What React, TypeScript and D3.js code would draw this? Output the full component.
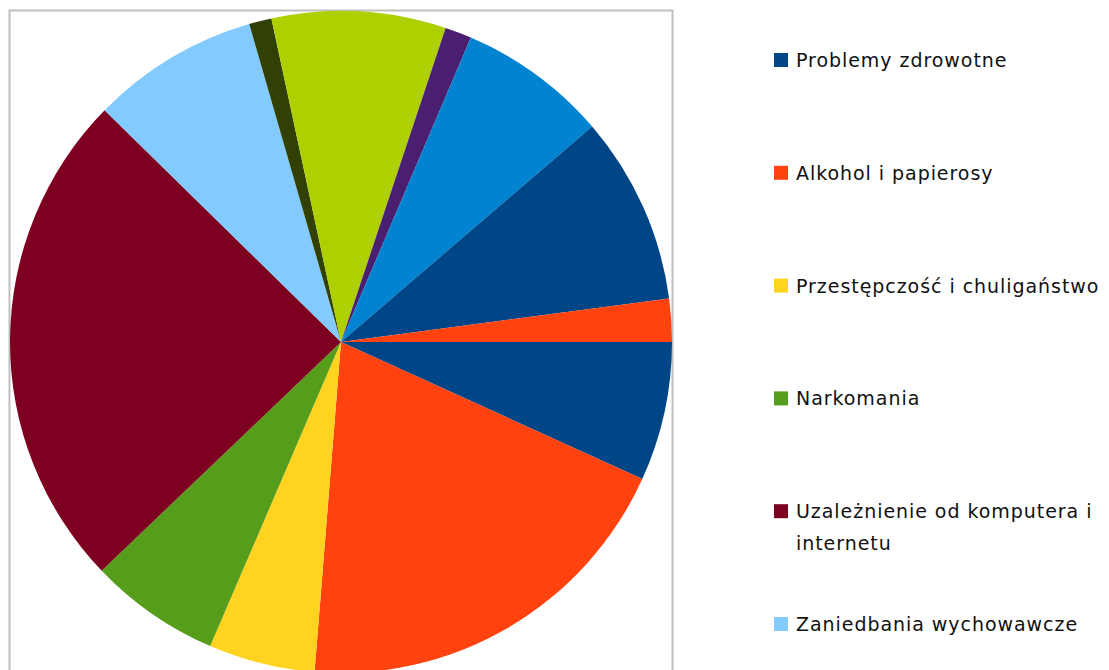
import * as React from "react";
import * as d3 from "d3";

// shares, clockwise from 3 o'clock
const shares = [6.8, 19.5, 5.2, 6.4, 24.5, 8.2, 1.1, 8.5, 1.3, 7.3, 9.2, 2.1];
const colors = [
	"#004586",
	"#ff420e",
	"#ffd320",
	"#579d1c",
	"#7e0021",
	"#83caff",
	"#314004",
	"#aecf00",
	"#4b1f6f",
	"#0084d1",
	"#004586",
	"#ff420e",
];
// only the first legend entries are visible in the picture
const legendLabels = [
	["Problemy zdrowotne"],
	["Alkohol i papierosy"],
	["Przestępczość i chuligaństwo"],
	["Narkomania"],
	["Uzależnienie od komputera i", "internetu"],
	["Zaniedbania wychowawcze"],
];

function PieChart() {
	const width = 1109;
	const height = 670;
	const cx = 341;
	const cy = 342;
	const radius = 331;

	const arcs = React.useMemo(
		() =>
			d3
				.pie<number>()
				.sort(null)
				.startAngle(Math.PI / 2)
				.endAngle(Math.PI / 2 + 2 * Math.PI)(shares),
		[]
	);
	const arc = d3.arc<d3.PieArcDatum<number>>().innerRadius(0).outerRadius(radius);

	const legendY = d3
		.scaleLinear()
		.domain([0, legendLabels.length - 1])
		.range([60, 624]);

	return (
		<svg
			width={width}
			height={height}
			style={{ position: "absolute", left: 0, top: 0 }}
			fontFamily="DejaVu Sans"
		>
			<rect x={0} y={0} width={width} height={height} fill="white" />
			<rect
				x={9.5}
				y={10.5}
				width={663}
				height={height + 20}
				fill="none"
				stroke="#bfbfbf"
				strokeWidth={2}
			/>
			<g transform={`translate(${cx},${cy})`}>
				{arcs.map((a, i) => (
					<path key={i} d={arc(a) || ""} fill={colors[i]} />
				))}
			</g>
			<g>
				{legendLabels.map((lines, i) => {
					const y = legendY(i);
					return (
						<g key={i}>
							<rect
								x={774}
								y={y - 7}
								width={14}
								height={14}
								fill={colors[i]}
							/>
							{lines.map((line, j) => (
								<text
									key={j}
									x={796}
									y={y + 7 + j * 32}
									fontSize={19}
									letterSpacing={0.95}
									fill="#111"
								>
									{line}
								</text>
							))}
						</g>
					);
				})}
			</g>
		</svg>
	);
}

export default function App() {
	return <PieChart />;
}
